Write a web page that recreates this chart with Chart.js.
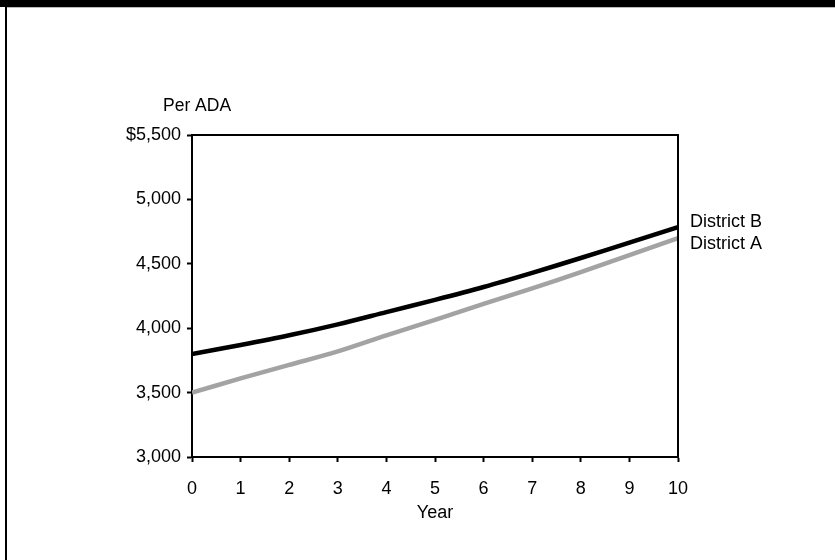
<!DOCTYPE html>
<html>
<head>
<meta charset="utf-8">
<script src="https://cdn.jsdelivr.net/npm/chart.js@4.4.1/dist/chart.umd.min.js"></script>
<style>
  html, body { margin: 0; padding: 0; background: #fff; }
  #c { display: block; }
</style>
</head>
<body>
<canvas id="c" width="835" height="560"></canvas>
<script>
const years = [0, 1, 2, 3, 4, 5, 6, 7, 8, 9, 10];
const districtB = [3800, 3870, 3945, 4030, 4125, 4220, 4320, 4430, 4545, 4665, 4785];
const districtA = [3500, 3610, 3715, 3820, 3945, 4065, 4188, 4310, 4435, 4567, 4700];
const seriesNames = ['District B', 'District A'];
const yTickValues = [3000, 3500, 4000, 4500, 5000, 5500];
const yAxisLabel = 'Per ADA';
const xAxisLabel = 'Year';

const FONT = '"Liberation Sans", Arial, Helvetica, sans-serif';

const decor = {
  id: 'decor',
  beforeDraw(chart) {
    const ctx = chart.ctx;
    ctx.save();
    ctx.fillStyle = '#fff';
    ctx.fillRect(0, 0, chart.width, chart.height);
    ctx.fillStyle = '#000';
    ctx.fillRect(0, 0, chart.width, 7);
    ctx.fillStyle = '#bbb';
    ctx.fillRect(7, 7, chart.width, 1);
    ctx.fillStyle = '#000';
    ctx.fillRect(5, 0, 2, chart.height);
    ctx.restore();
  },
  afterDraw(chart) {
    const ctx = chart.ctx;
    const a = chart.chartArea;
    const xs = chart.scales.x, ys = chart.scales.y;
    ctx.save();
    ctx.strokeStyle = '#000';
    ctx.lineWidth = 2;
    ctx.beginPath();
    ctx.moveTo(a.left - 1, a.top);
    ctx.lineTo(a.right, a.top);
    ctx.lineTo(a.right, a.bottom + 1);
    ctx.stroke();

    ctx.fillStyle = '#000';
    ctx.font = '17.5px ' + FONT;
    ctx.textAlign = 'left';
    ctx.textBaseline = 'middle';
    ctx.fillText(yAxisLabel, 163, 106);

    ctx.font = '18px ' + FONT;
    ctx.textAlign = 'center';
    ctx.fillText(xAxisLabel, (a.left + a.right) / 2, 513);

    ctx.textAlign = 'left';
    const lastX = xs.getPixelForValue(years[years.length - 1]);
    ctx.fillText(seriesNames[0], lastX + 12, ys.getPixelForValue(districtB[districtB.length - 1]) - 5);
    ctx.fillText(seriesNames[1], lastX + 12, ys.getPixelForValue(districtA[districtA.length - 1]) + 6);
    ctx.restore();
  }
};

new Chart(document.getElementById('c'), {
  type: 'line',
  data: {
    labels: years,
    datasets: [
      { label: seriesNames[0], data: years.map((x, i) => ({x, y: districtB[i]})),
        borderColor: '#000', borderWidth: 4.5, pointRadius: 0, tension: 0.3, fill: false },
      { label: seriesNames[1], data: years.map((x, i) => ({x, y: districtA[i]})),
        borderColor: '#a3a3a3', borderWidth: 4.5, pointRadius: 0, tension: 0.3, fill: false }
    ]
  },
  options: {
    responsive: false,
    animation: false,
    devicePixelRatio: 1,
    layout: { padding: { left: 0, right: 157, top: 135, bottom: 0 } },
    plugins: { legend: { display: false }, tooltip: { enabled: false } },
    scales: {
      x: {
        type: 'linear', min: 0, max: 10,
        afterFit(s) { s.height = 103; },
        border: { display: true, color: '#000', width: 2 },
        grid: { drawOnChartArea: false, drawTicks: true, tickLength: 5, tickColor: '#000', tickWidth: 2 },
        ticks: { stepSize: 1, color: '#000', padding: 16, font: { family: FONT, size: 18 }, maxRotation: 0 }
      },
      y: {
        min: 3000, max: 5500,
        afterFit(s) { s.width = 192; },
        afterBuildTicks(s) { s.ticks = yTickValues.map(v => ({ value: v })); },
        border: { display: true, color: '#000', width: 2 },
        grid: { drawOnChartArea: false, drawTicks: true, tickLength: 5, tickColor: '#000', tickWidth: 2 },
        ticks: {
          color: '#000', padding: 6, font: { family: FONT, size: 18 },
          callback(v) { const s = Number(v).toLocaleString('en-US'); return v === 5500 ? '$' + s : s; }
        }
      }
    }
  },
  plugins: [decor]
});
</script>
</body>
</html>
